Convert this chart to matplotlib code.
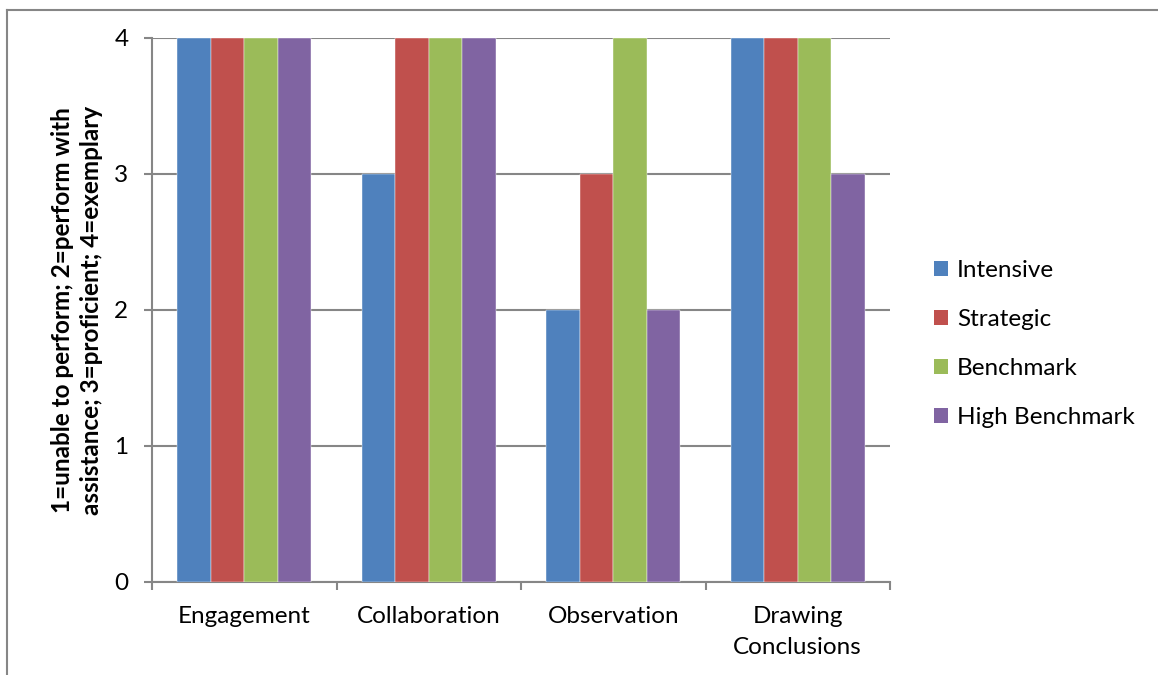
import matplotlib
matplotlib.use('Agg')
import numpy as np
import matplotlib.pyplot as plt
from matplotlib.lines import Line2D
from matplotlib.patches import Patch

plt.rcParams['font.family'] = ['Lato', 'DejaVu Sans']

# rubric scores per activity
categories = ['Engagement', 'Collaboration', 'Observation', 'Drawing\nConclusions']
groups = ['Intensive', 'Strategic', 'Benchmark', 'High Benchmark']
intensive = [4, 3, 2, 4]
strategic = [4, 4, 3, 4]
benchmark = [4, 4, 4, 4]
high_benchmark = [4, 4, 2, 3]
yticks = [0, 1, 2, 3, 4]

colors = ['#4F81BD', '#C0504D', '#9BBB59', '#8064A2']
grid_col = '#868686'
fs = 17.5

fig = plt.figure(figsize=(11.58, 6.75), dpi=100)
ax = fig.add_axes([152 / 1158, 1 - 582 / 675, (890 - 152) / 1158, (582 - 38) / 675])

x = np.arange(len(categories))
bw = 1 / 5.5  # gap width 150%
series = [intensive, strategic, benchmark, high_benchmark]
for i, (vals, col, name) in enumerate(zip(series, colors, groups)):
    ax.bar(x + (i - 1.5) * bw, vals, bw, color=col, label=name,
           edgecolor='white', linewidth=0.3, zorder=3)

ax.set_xlim(-0.5, len(categories) - 0.5)
ax.set_ylim(0, 4)
ax.set_yticks(yticks)
ax.set_yticklabels([str(t) for t in yticks], fontsize=fs)
ax.yaxis.grid(True, color=grid_col, linewidth=1.5, zorder=0)

ax.set_xticks(x)
ax.set_xticklabels(categories, fontsize=fs, linespacing=1.6)
ax.set_xticks(np.arange(len(categories) + 1) - 0.5, minor=True)
ax.tick_params(axis='x', which='major', length=0, pad=17)
ax.tick_params(axis='x', which='minor', length=6, width=1.5, color=grid_col, direction='out')
ax.tick_params(axis='y', length=6, width=1.5, color=grid_col, pad=11)

for s in ['top', 'right']:
    ax.spines[s].set_visible(False)
for s in ['left', 'bottom']:
    ax.spines[s].set_color(grid_col)
    ax.spines[s].set_linewidth(1.5)

ax.set_ylabel('1=unable to perform; 2=perform with\nassistance; 3=proficient; 4=exemplary',
              fontsize=fs, fontweight='bold', labelpad=8, linespacing=1.3)

handles = [Patch(facecolor=c, edgecolor='none') for c in colors]
fig.legend(handles, groups, loc='center left', bbox_to_anchor=(912 / 1158, 1 - 344 / 675),
           frameon=False, fontsize=fs, handlelength=0.6, handleheight=0.6,
           handletextpad=0.35, labelspacing=1.15)

# outer chart border
fig.add_artist(Line2D([7.5 / 1158, 7.5 / 1158], [0, 1 - 9.5 / 675],
                      transform=fig.transFigure, color=grid_col, linewidth=1.5))
fig.add_artist(Line2D([7.5 / 1158, 1], [1 - 9.5 / 675, 1 - 9.5 / 675],
                      transform=fig.transFigure, color=grid_col, linewidth=1.5))

fig.savefig('out.png', dpi=100)
